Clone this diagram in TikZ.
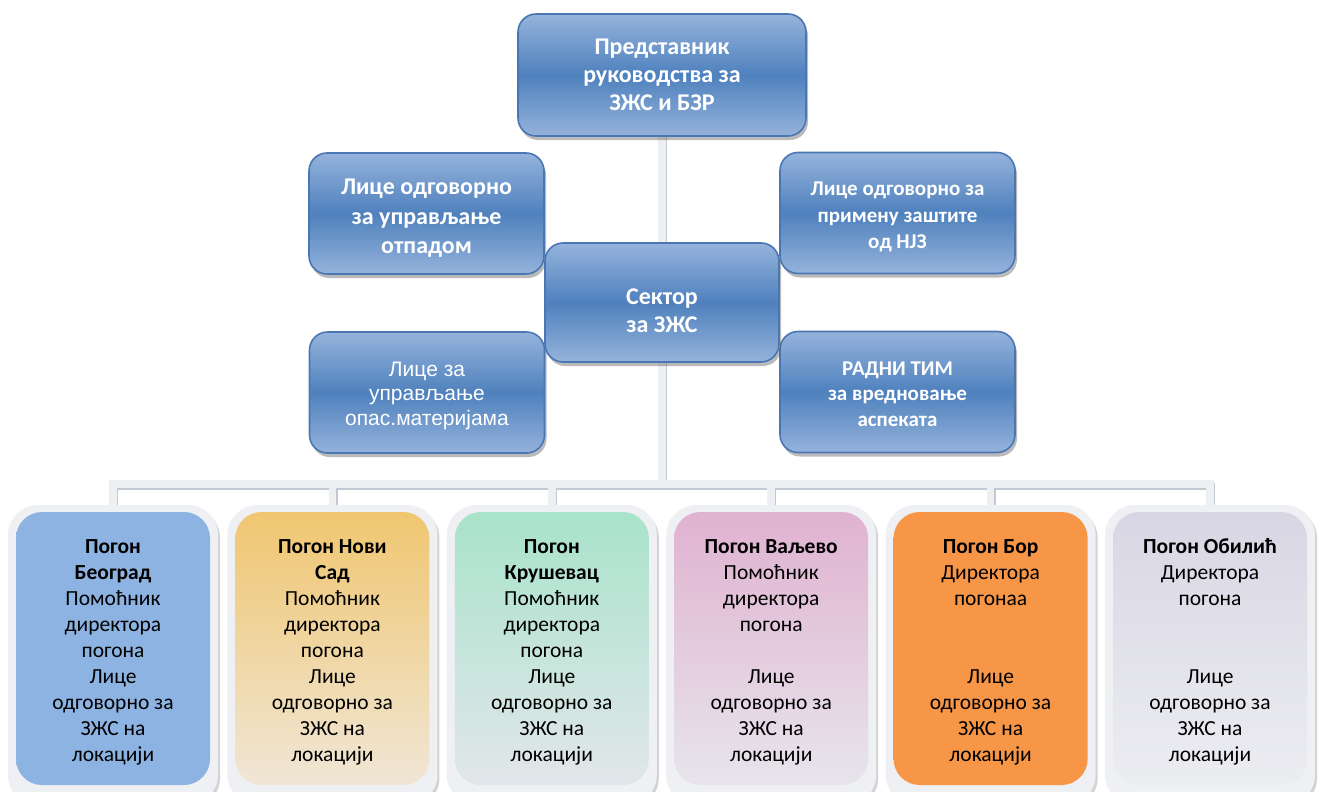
\documentclass[tikz,border=0pt]{standalone}
\usepackage{fontspec}
\setmainfont{Carlito}
\newfontfamily\arialfont{Liberation Sans}
\usetikzlibrary{shadows,backgrounds}
\definecolor{bluelight}{HTML}{95B3DC}
\definecolor{bluemid}{HTML}{4F81BD}
\definecolor{blueedge}{HTML}{4A76B4}
\definecolor{barfill}{HTML}{EDEFF2}
\definecolor{barshade}{HTML}{C2C9D5}
\definecolor{framefill}{HTML}{EEF0F3}
% plant colours (top / bottom)
\definecolor{top1}{HTML}{8DB3E2}\definecolor{bot1}{HTML}{8DB3E2}
\definecolor{top2}{HTML}{F0C670}\definecolor{bot2}{HTML}{F0E6D6}
\definecolor{top3}{HTML}{A8E3CB}\definecolor{bot3}{HTML}{E2E6EA}
\definecolor{top4}{HTML}{E0B2D1}\definecolor{bot4}{HTML}{E7E5EB}
\definecolor{top5}{HTML}{F79646}\definecolor{bot5}{HTML}{F79646}
\definecolor{top6}{HTML}{D8D6E4}\definecolor{bot6}{HTML}{ECEDF1}
% taller first line pushes the text block down a little
\newcommand{\dnstrut}[1]{\rule{0pt}{#1}}
\begin{document}
\begin{tikzpicture}[x=1pt,y=-1pt,
    bluebox/.style={draw=blueedge, line width=1.6pt, rounded corners=18pt, inner sep=0pt,
      top color=bluelight, bottom color=bluelight, middle color=bluemid,
      text=white, align=center, font=\bfseries,
      drop shadow={shadow xshift=2pt, shadow yshift=-4pt, opacity=0.45, fill=black!60}},
    sidebox/.style={bluebox, minimum width=235pt, minimum height=121pt},
    frame/.style={fill=framefill, rounded corners=30pt, minimum width=210pt, minimum height=300pt,
      drop shadow={shadow xshift=2pt, shadow yshift=-3pt, opacity=0.35, fill=black!50}},
    pogonbox/.style={rounded corners=26pt, minimum width=194pt, minimum height=273pt, inner sep=0pt,
      align=center, font=\fontsize{21.5}{26}\selectfont},
    conn/.style={draw=barfill, line width=7.5pt, line cap=rect,
      preaction={draw=barshade, line width=7.5pt, line cap=rect,
        transform canvas={xshift=1.5pt, yshift=-2.5pt}}}]
    \useasboundingbox (0,0) rectangle (1322,792);

    % Top level
    \node[bluebox, minimum width=288pt, minimum height=122pt, font=\bfseries\fontsize{24}{28}\selectfont] (top) at (662,75) {Представник\\руководства за\\ЗЖС и БЗР};

    % Side boxes
    \node[sidebox, font=\bfseries\fontsize{24}{29.5}\selectfont] (waste) at (426.5,213.5) {\dnstrut{25.5pt}Лице одговорно\\за управљање\\отпадом};
    \node[sidebox, font=\bfseries\fontsize{21}{26.5}\selectfont] (njz) at (897.5,213) {\dnstrut{21.5pt}Лице одговорно за\\примену заштите\\од НЈЗ};
    \node[sidebox, font=\arialfont\fontsize{21}{24.5}\selectfont] (hazmat) at (427,392.5) {\dnstrut{21pt}Лице за\\управљање\\опас.материјама};
    \node[sidebox, font=\bfseries\fontsize{21}{25.5}\selectfont] (team) at (897.5,392) {\dnstrut{17.5pt}РАДНИ ТИМ\\за вредновање\\аспеката};

    % Sector
    \node[bluebox, minimum width=234pt, minimum height=119pt, font=\bfseries\fontsize{24}{28}\selectfont] (sector) at (662,302.5) {\dnstrut{33pt}Сектор\\за ЗЖС};

    % Plants
    \foreach \i in {1,...,6}
      \node[frame] (frame\i) at ({113+219.4*(\i-1)},655) {};
    \node[pogonbox, top color=top1, bottom color=bot1] (pogon1) at (frame1.center |- 0,648.5)
      {\dnstrut{22pt}\textbf{Погон}\\\textbf{Београд}\\Помоћник\\директора\\погона\\Лице\\одговорно за\\ЗЖС на\\локацији};
    \node[pogonbox, top color=top2, bottom color=bot2] (pogon2) at (frame2.center |- 0,648.5)
      {\dnstrut{22pt}\textbf{Погон Нови}\\\textbf{Сад}\\Помоћник\\директора\\погона\\Лице\\одговорно за\\ЗЖС на\\локацији};
    \node[pogonbox, top color=top3, bottom color=bot3] (pogon3) at (frame3.center |- 0,648.5)
      {\dnstrut{22pt}\textbf{Погон}\\\textbf{Крушевац}\\Помоћник\\директора\\погона\\Лице\\одговорно за\\ЗЖС на\\локацији};
    \node[pogonbox, top color=top4, bottom color=bot4] (pogon4) at (frame4.center |- 0,648.5)
      {\dnstrut{22pt}\textbf{Погон Ваљево}\\Помоћник\\директора\\погона\\~\\Лице\\одговорно за\\ЗЖС на\\локацији};
    \node[pogonbox, top color=top5, bottom color=bot5] (pogon5) at (frame5.center |- 0,648.5)
      {\dnstrut{22pt}\textbf{Погон Бор}\\Директора\\погонаа\\~\\~\\Лице\\одговорно за\\ЗЖС на\\локацији};
    \node[pogonbox, top color=top6, bottom color=bot6] (pogon6) at (frame6.center |- 0,648.5)
      {\dnstrut{22pt}\textbf{Погон Обилић}\\Директора\\погона\\~\\~\\Лице\\одговорно за\\ЗЖС на\\локацији};

    % Connections
    \coordinate (bus) at (662,484);
    \begin{scope}[on background layer]
      \draw[conn] (top.south) -- (sector.north)
        (sector.south) -- (bus)
        (frame1.north |- bus) -- (frame6.north |- bus)
        \foreach \i in {1,...,6} { (frame\i.north |- bus) -- (frame\i.north) };
    \end{scope}
\end{tikzpicture}
\end{document}
